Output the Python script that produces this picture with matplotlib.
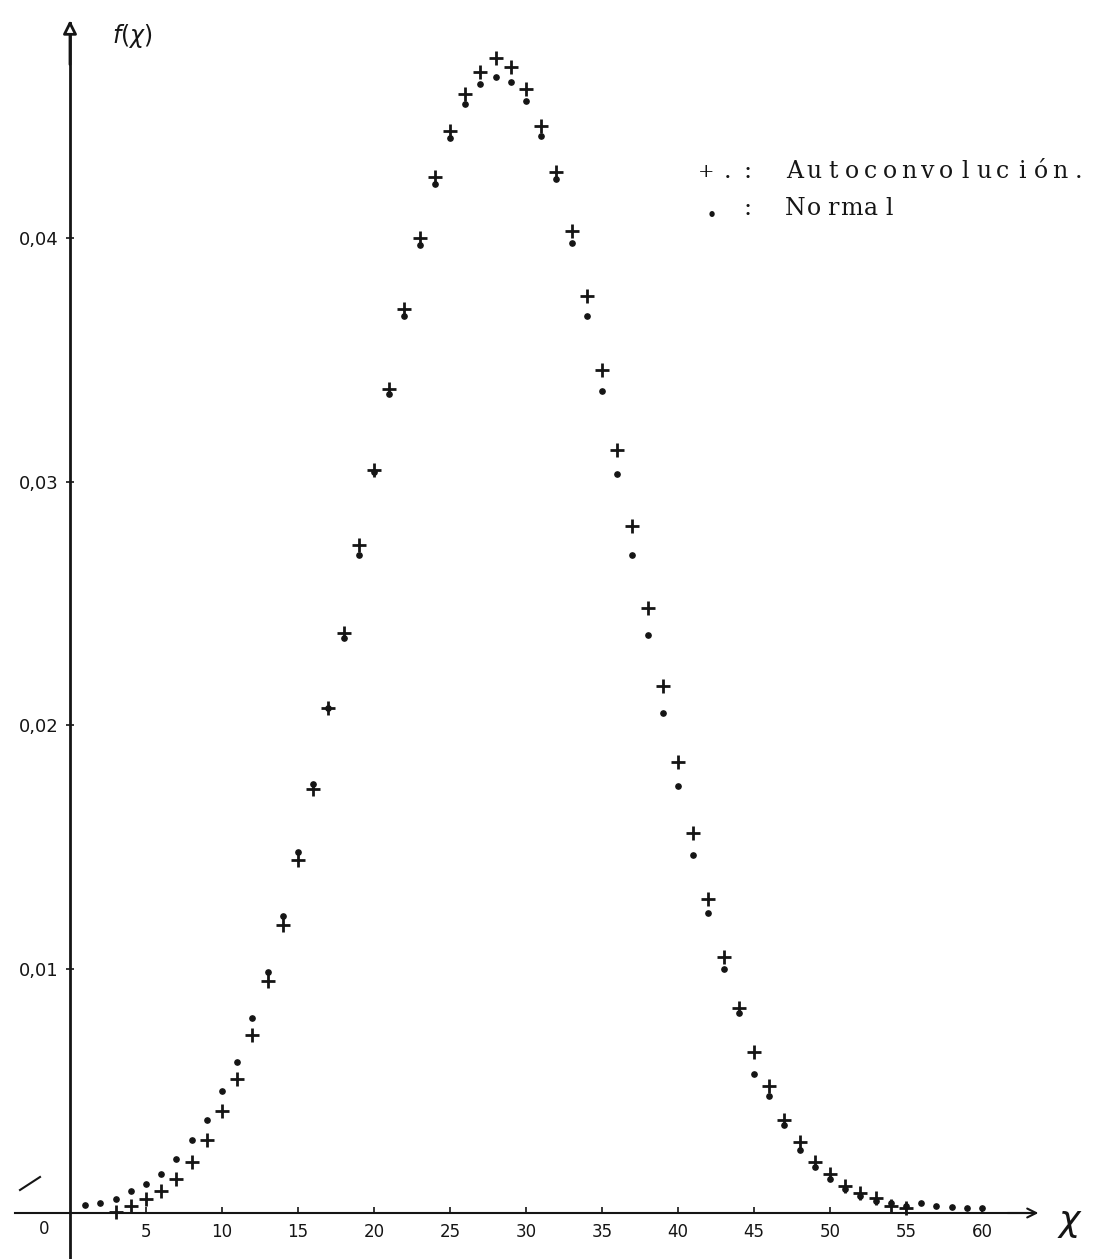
import matplotlib
matplotlib.use("Agg")
import matplotlib.pyplot as plt
from matplotlib.lines import Line2D

# Autoconvolution values f(x) at integer x
x_auto = list(range(3, 56))
f_auto = [0.00005, 0.0003, 0.00058, 0.0009, 0.0014, 0.0021, 0.0030, 0.0042,
          0.0055, 0.0073, 0.0095, 0.0118, 0.0145, 0.0174, 0.0207, 0.0238,
          0.0274, 0.0305, 0.0338, 0.0371, 0.0400, 0.0425, 0.0444, 0.0459,
          0.0468, 0.0474, 0.0470, 0.0461, 0.0446, 0.0427, 0.0403, 0.0376,
          0.0346, 0.0313, 0.0282, 0.0248, 0.0216, 0.0185, 0.0156, 0.0129,
          0.0105, 0.0084, 0.0066, 0.0052, 0.0038, 0.0029, 0.0021, 0.0016,
          0.0011, 0.0008, 0.0006, 0.0003, 0.0002]

# Normal approximation f(x) at integer x
x_norm = list(range(1, 61))
f_norm = [0.00033, 0.00041, 0.00057, 0.0009, 0.0012, 0.0016, 0.0022, 0.0030,
          0.0038, 0.0050, 0.0062, 0.0080, 0.0099, 0.0122, 0.0148, 0.0176,
          0.0207, 0.0236, 0.0270, 0.0304, 0.0336, 0.0368, 0.0397, 0.0422,
          0.0441, 0.0455, 0.0463, 0.0466, 0.0464, 0.0456, 0.0442, 0.0424,
          0.0398, 0.0368, 0.0337, 0.0303, 0.0270, 0.0237, 0.0205, 0.0175,
          0.0147, 0.0123, 0.0100, 0.0082, 0.0057, 0.0048, 0.0036, 0.0026,
          0.0019, 0.0014, 0.0010, 0.0007, 0.0005, 0.0004, 0.0003, 0.0004,
          0.0003, 0.00025, 0.0002, 0.0002]

x_ticks = [5, 10, 15, 20, 25, 30, 35, 40, 45, 50, 55, 60]
x_tick_labels = ["5", "10", "15", "20", "25", "30", "35", "40", "45", "50", "55", "60"]
y_ticks = [0.01, 0.02, 0.03, 0.04]
y_tick_labels = ["0,01", "0,02", "0,03", "0,04"]

legend_auto = "Autoconvolución."
legend_norm = "Normal"

W, H = 1097, 1259
ink = "#151515"

fig = plt.figure(figsize=(W / 100, H / 100), dpi=100)
ax = fig.add_axes([0, 0, 1, 1])
ax.set_xlim(-4.605, 67.57)
ax.set_ylim(-0.001887, 0.04976)
ax.set_facecolor("white")

# Axes drawn through the origin
for side in ("top", "right"):
    ax.spines[side].set_visible(False)
ax.spines["left"].set_position(("data", 0))
ax.spines["bottom"].set_position(("data", 0))
ax.spines["left"].set_bounds(-0.0019, 0.0488)
ax.spines["bottom"].set_bounds(-3.6, 63.2)
ax.spines["left"].set_linewidth(2.0)
ax.spines["bottom"].set_linewidth(1.5)
ax.spines["left"].set_color(ink)
ax.spines["bottom"].set_color(ink)

ax.set_xticks(x_ticks)
ax.set_xticklabels(x_tick_labels)
ax.set_yticks(y_ticks)
ax.set_yticklabels(y_tick_labels)
ax.tick_params(axis="x", direction="in", length=4, width=1.2, colors=ink,
               labelsize=12, pad=7)
ax.tick_params(axis="y", direction="inout", length=6, width=1.2, colors=ink,
               labelsize=13, pad=5)

# Axis arrows
ax.annotate("", xy=(63.9, 0), xytext=(61.5, 0),
            arrowprops=dict(arrowstyle="->", lw=1.5, color=ink,
                            mutation_scale=16), annotation_clip=False)
ax.annotate("", xy=(0, 0.04905), xytext=(0, 0.0470),
            arrowprops=dict(arrowstyle="-|>", lw=2.0, color=ink,
                            mutation_scale=20, fc="white"),
            annotation_clip=False)

# Origin label and axis names
ax.text(-1.7, -0.00066, "0", ha="center", va="center", fontsize=12, color=ink)
ax.text(65.8, -0.0004, r"$\chi$", ha="center", va="center", fontsize=26,
        color=ink)
ax.text(4.1, 0.0483, r"$f(\chi)$", ha="center", va="center", fontsize=17,
        color=ink)

# Data marks
ax.plot(x_norm, f_norm, linestyle="none", marker="o", markersize=3.8,
        color=ink, clip_on=False, zorder=3)
ax.plot(x_auto, f_auto, linestyle="none", marker="+", markersize=10.5,
        markeredgewidth=2.0, color=ink, clip_on=False, zorder=4)

# Stray pen stroke near the lower left corner
fig.add_artist(Line2D([20 / W, 40 / W], [1 - 1190 / H, 1 - 1177 / H],
                      transform=fig.transFigure, color=ink, lw=1.5))

# Typewritten key, one character per fixed-pitch cell
def typed(text, x_center0, y_base, pitch=18.9, size=17, **kw):
    for i, ch in enumerate(text):
        if ch == " ":
            continue
        fig.text((x_center0 + i * pitch) / W, 1 - y_base / H, ch,
                 ha="center", va="baseline", fontsize=size, color=ink,
                 family="DejaVu Serif", **kw)

typed("+", 706, 177, size=14)
typed(".", 728, 178)
typed(":", 748, 178)
typed(legend_auto, 795, 178)
typed(".", 712, 217, size=21, fontweight="bold")
typed(":", 748, 215)
typed(legend_norm, 795, 215)

fig.savefig("out.png", dpi=100, facecolor="white")
